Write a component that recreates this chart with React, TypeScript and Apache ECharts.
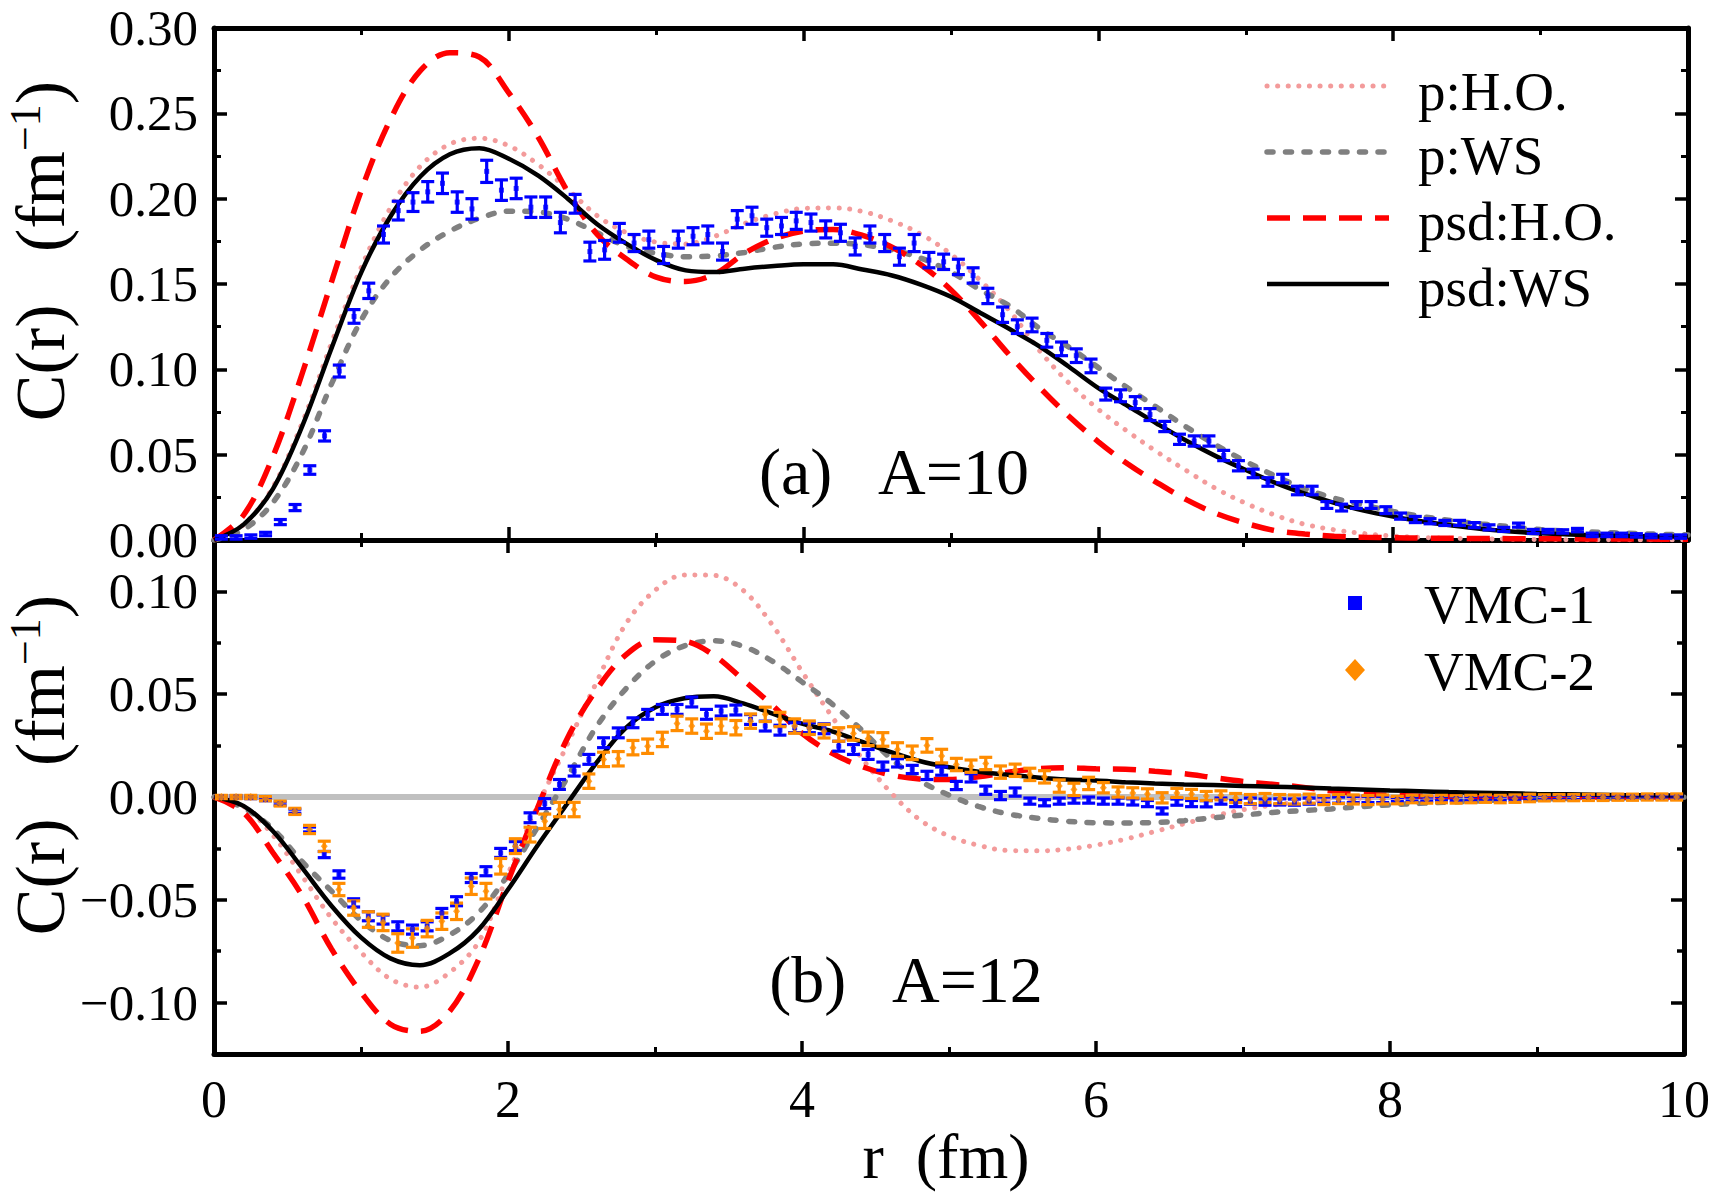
import React, { useEffect, useRef } from "react";
import * as echarts from "echarts";

const FONT = "Liberation Serif";

// radial grid of the model curves (fm)
const rCurve = [0, 0.2, 0.4, 0.6, 0.8, 1, 1.2, 1.4, 1.6, 1.8, 2, 2.2, 2.4, 2.6, 2.8, 3, 3.2, 3.4, 3.6, 3.8, 4, 4.2, 4.4, 4.6, 4.8, 5, 5.2, 5.4, 5.6, 5.8, 6, 6.2, 6.4, 6.6, 6.8, 7, 7.2, 7.4, 7.6, 7.8, 8, 8.2, 8.4, 8.6, 8.8, 9, 9.2, 9.4, 9.6, 9.8, 10];

// (a) A=10 model curves
const pHO_A10 = [0, 0.009, 0.031, 0.069, 0.116, 0.16, 0.195, 0.219, 0.232, 0.2354, 0.231, 0.22, 0.2055, 0.19, 0.18, 0.1745, 0.1735, 0.178, 0.1855, 0.191, 0.1943, 0.1946, 0.1925, 0.187, 0.179, 0.1675, 0.152, 0.134, 0.111, 0.092, 0.0765, 0.0635, 0.0515, 0.0405, 0.03, 0.0215, 0.0145, 0.0092, 0.006, 0.0038, 0.0023, 0.0015, 0.001, 0.0007, 0.0005, 0.0003, 0.0002, 0.0002, 0.0001, 0.0001, 0.0001];
const pWS_A10 = [0, 0.006, 0.022, 0.051, 0.092, 0.129, 0.154, 0.17, 0.181, 0.1885, 0.1927, 0.1922, 0.188, 0.18, 0.172, 0.168, 0.166, 0.1665, 0.1685, 0.1715, 0.1735, 0.1739, 0.173, 0.17, 0.165, 0.157, 0.1465, 0.137, 0.124, 0.113, 0.101, 0.089, 0.0775, 0.066, 0.0555, 0.046, 0.0375, 0.03, 0.0245, 0.0205, 0.0167, 0.0137, 0.0113, 0.0094, 0.0077, 0.0061, 0.0052, 0.0045, 0.0039, 0.0034, 0.003];
const psdHO_A10 = [0, 0.0145, 0.049, 0.098, 0.152, 0.205, 0.247, 0.275, 0.2855, 0.283, 0.262, 0.236, 0.204, 0.179, 0.1645, 0.154, 0.1515, 0.156, 0.168, 0.1765, 0.181, 0.182, 0.1785, 0.1715, 0.161, 0.1465, 0.128, 0.108, 0.0895, 0.0725, 0.0575, 0.0445, 0.0335, 0.0235, 0.0155, 0.0098, 0.0055, 0.0035, 0.0022, 0.0016, 0.0013, 0.0011, 0.001, 0.0009, 0.0008, 0.0007, 0.0007, 0.0006, 0.0006, 0.0005, 0.0005];
const psdWS_A10 = [0, 0.009, 0.03, 0.067, 0.113, 0.157, 0.19, 0.213, 0.226, 0.2296, 0.2234, 0.2135, 0.2, 0.185, 0.1735, 0.164, 0.158, 0.157, 0.159, 0.1605, 0.1615, 0.1615, 0.1585, 0.155, 0.1495, 0.1425, 0.133, 0.1235, 0.1135, 0.1015, 0.089, 0.0785, 0.068, 0.058, 0.049, 0.041, 0.0335, 0.0272, 0.0218, 0.0172, 0.0137, 0.0108, 0.0085, 0.0065, 0.005, 0.0039, 0.0032, 0.0027, 0.0024, 0.0021, 0.002];

// (b) A=12 model curves
const pHO_A12 = [0, -0.0045, -0.0185, -0.0385, -0.059, -0.0755, -0.0885, -0.0925, -0.0855, -0.0705, -0.0375, -0.0045, 0.025, 0.0555, 0.084, 0.1005, 0.108, 0.1078, 0.1005, 0.0835, 0.061, 0.0395, 0.0195, 0.0025, -0.011, -0.019, -0.0235, -0.026, -0.0262, -0.0254, -0.0234, -0.0205, -0.0168, -0.013, -0.0093, -0.0062, -0.004, -0.0023, -0.0012, -0.0006, -0.0003, -0.0002, -0.0001, 0, 0, 0, 0, 0, 0, 0, 0];
const pWS_A12 = [0, -0.0052, -0.0155, -0.0315, -0.0458, -0.06, -0.0698, -0.0723, -0.0672, -0.0563, -0.0378, -0.0147, 0.009, 0.034, 0.0525, 0.066, 0.0735, 0.076, 0.0733, 0.066, 0.056, 0.0455, 0.033, 0.019, 0.008, 0.0009, -0.0046, -0.0082, -0.0103, -0.0118, -0.0125, -0.0126, -0.0124, -0.0115, -0.0101, -0.0088, -0.0075, -0.0066, -0.0058, -0.0047, -0.0038, -0.0031, -0.0025, -0.0019, -0.0014, -0.001, -0.0008, -0.0006, -0.0004, -0.0002, -0.0001];
const psdHO_A12 = [0, -0.0075, -0.027, -0.048, -0.074, -0.095, -0.1105, -0.114, -0.1045, -0.079, -0.041, -0.0055, 0.028, 0.052, 0.069, 0.0765, 0.0758, 0.069, 0.057, 0.0445, 0.031, 0.0215, 0.015, 0.0108, 0.0088, 0.0085, 0.0098, 0.012, 0.0137, 0.0142, 0.0137, 0.0135, 0.0125, 0.0113, 0.0094, 0.0076, 0.0062, 0.0048, 0.003, 0.0016, 0.0008, 0.0004, 0.0002, 0.0001, 0.0001, 0, 0, 0, 0, 0, 0];
const psdWS_A12 = [0, -0.0043, -0.0165, -0.0345, -0.053, -0.0683, -0.0785, -0.0818, -0.0762, -0.0645, -0.045, -0.0237, -0.0035, 0.0165, 0.0335, 0.0435, 0.048, 0.049, 0.0455, 0.0405, 0.0357, 0.032, 0.027, 0.022, 0.0175, 0.0145, 0.0123, 0.0108, 0.0095, 0.0085, 0.008, 0.0072, 0.0066, 0.0061, 0.0058, 0.0054, 0.005, 0.0046, 0.0041, 0.0037, 0.0032, 0.0028, 0.0024, 0.0021, 0.0018, 0.0015, 0.0013, 0.0011, 0.0009, 0.0008, 0.0007];

// bin centres of the VMC samples (fm)
const rVmc = [
  0.05, 0.15, 0.25, 0.35, 0.45, 0.55, 0.65, 0.75, 0.85, 0.95,
  1.05, 1.15, 1.25, 1.35, 1.45, 1.55, 1.65, 1.75, 1.85, 1.95,
  2.05, 2.15, 2.25, 2.35, 2.45, 2.55, 2.65, 2.75, 2.85, 2.95,
  3.05, 3.15, 3.25, 3.35, 3.45, 3.55, 3.65, 3.75, 3.85, 3.95,
  4.05, 4.15, 4.25, 4.35, 4.45, 4.55, 4.65, 4.75, 4.85, 4.95,
  5.05, 5.15, 5.25, 5.35, 5.45, 5.55, 5.65, 5.75, 5.85, 5.95,
  6.05, 6.15, 6.25, 6.35, 6.45, 6.55, 6.65, 6.75, 6.85, 6.95,
  7.05, 7.15, 7.25, 7.35, 7.45, 7.55, 7.65, 7.75, 7.85, 7.95,
  8.05, 8.15, 8.25, 8.35, 8.45, 8.55, 8.65, 8.75, 8.85, 8.95,
  9.05, 9.15, 9.25, 9.35, 9.45, 9.55, 9.65, 9.75, 9.85, 9.95,
];

// VMC-1, A=10: value and statistical error
const vmc1A10 = [
  0.0015, 0.0015, 0.002, 0.0035, 0.0105, 0.019, 0.041, 0.061, 0.099, 0.131,
  0.146, 0.179, 0.193, 0.198, 0.204, 0.209, 0.198, 0.194, 0.216, 0.205,
  0.206, 0.195, 0.195, 0.186, 0.197, 0.169, 0.17, 0.18, 0.174, 0.176,
  0.167, 0.176, 0.178, 0.179, 0.169, 0.188, 0.19, 0.183, 0.184, 0.187,
  0.186, 0.182, 0.18, 0.172, 0.179, 0.174, 0.166, 0.174, 0.164, 0.163,
  0.16, 0.155, 0.143, 0.132, 0.125, 0.126, 0.117, 0.112, 0.108, 0.102,
  0.0855, 0.0845, 0.0805, 0.0735, 0.0665, 0.059, 0.058, 0.058, 0.0495, 0.0435,
  0.039, 0.034, 0.036, 0.029, 0.029, 0.0205, 0.019, 0.0205, 0.0205, 0.0175,
  0.014, 0.012, 0.011, 0.01, 0.01, 0.0087, 0.0074, 0.0062, 0.0087, 0.005,
  0.0052, 0.005, 0.0058, 0.003, 0.003, 0.003, 0.0027, 0.0023, 0.002, 0.002,
];
const err1A10 = [
  0.001, 0.001, 0.001, 0.001, 0.0015, 0.0018, 0.0025, 0.003, 0.0035, 0.004,
  0.0045, 0.005, 0.0055, 0.0055, 0.006, 0.006, 0.006, 0.006, 0.0065, 0.006,
  0.006, 0.006, 0.006, 0.006, 0.0055, 0.0055, 0.0055, 0.0055, 0.005, 0.005,
  0.005, 0.005, 0.005, 0.005, 0.005, 0.005, 0.005, 0.005, 0.005, 0.005,
  0.005, 0.005, 0.005, 0.005, 0.005, 0.005, 0.005, 0.005, 0.0045, 0.0045,
  0.0045, 0.0045, 0.0045, 0.0045, 0.004, 0.004, 0.004, 0.004, 0.004, 0.004,
  0.0035, 0.0035, 0.0035, 0.0035, 0.003, 0.003, 0.003, 0.003, 0.003, 0.003,
  0.0025, 0.0025, 0.0025, 0.0025, 0.0025, 0.002, 0.002, 0.002, 0.002, 0.002,
  0.0018, 0.0018, 0.0015, 0.0015, 0.0015, 0.0015, 0.0015, 0.0012, 0.0012, 0.0012,
  0.001, 0.001, 0.001, 0.001, 0.001, 0.001, 0.001, 0.001, 0.001, 0.001,
];

// VMC-1, A=12
const vmc1A12 = [
  0, 0, -0.0002, -0.0012, -0.0032, -0.0069, -0.0158, -0.028, -0.0377, -0.0515,
  -0.058, -0.0596, -0.0629, -0.0645, -0.0629, -0.0564, -0.0507, -0.0394, -0.0361, -0.0272,
  -0.0239, -0.0101, -0.0032, 0.0061, 0.0126, 0.0183, 0.0264, 0.0312, 0.0361, 0.0402,
  0.0426, 0.0426, 0.0462, 0.0402, 0.0418, 0.0423, 0.0377, 0.0345, 0.0325, 0.0337,
  0.0337, 0.0332, 0.0247, 0.0231, 0.0207, 0.015, 0.0166, 0.0134, 0.0105, 0.0126,
  0.0056, 0.0093, 0.0033, 0.0007, 0.0024, -0.002, -0.0028, -0.002, -0.0015, -0.0015,
  -0.002, -0.002, -0.0024, -0.0032, -0.0068, -0.0025, -0.0032, -0.0033, -0.002, -0.0032,
  -0.002, -0.0025, -0.0024, -0.0025, -0.002, -0.0015, -0.0015, -0.0012, -0.0012, -0.0012,
  -0.0012, -0.001, -0.001, -0.0008, -0.0008, -0.0008, -0.0006, -0.0006, -0.0005, -0.0004,
  -0.0003, -0.0002, -0.0002, -0.0001, 0, -0.0001, 0, 0, 0, 0,
];
const err1A12 = [
  0.0006, 0.0006, 0.0006, 0.0006, 0.0008, 0.001, 0.0012, 0.0015, 0.0018, 0.002,
  0.0022, 0.0022, 0.0022, 0.0022, 0.0022, 0.0022, 0.0022, 0.0022, 0.0022, 0.0022,
  0.0022, 0.0024, 0.0024, 0.0024, 0.0024, 0.0024, 0.0024, 0.0024, 0.0024, 0.0024,
  0.0024, 0.0024, 0.0024, 0.0024, 0.0024, 0.0024, 0.0024, 0.0024, 0.0024, 0.0024,
  0.0024, 0.0024, 0.0024, 0.0024, 0.0024, 0.002, 0.002, 0.002, 0.002, 0.002,
  0.002, 0.002, 0.002, 0.002, 0.002, 0.0015, 0.0015, 0.0015, 0.0015, 0.0015,
  0.0015, 0.0015, 0.0015, 0.0015, 0.0015, 0.0015, 0.0015, 0.0015, 0.0015, 0.0015,
  0.0015, 0.0015, 0.0015, 0.0015, 0.0015, 0.0015, 0.0015, 0.0015, 0.0015, 0.0015,
  0.001, 0.001, 0.001, 0.001, 0.001, 0.001, 0.001, 0.001, 0.001, 0.001,
  0.001, 0.001, 0.001, 0.001, 0.001, 0.001, 0.001, 0.001, 0.001, 0.001,
];

// VMC-2, A=12
const vmc2A12 = [
  0, 0, 0, -0.0008, -0.0032, -0.007, -0.0158, -0.024, -0.045, -0.054,
  -0.0596, -0.061, -0.071, -0.0686, -0.064, -0.0604, -0.0556, -0.0434, -0.0458, -0.0337,
  -0.0239, -0.0183, -0.0118, -0.0061, -0.0061, 0.0077, 0.0183, 0.0186, 0.024, 0.0247,
  0.028, 0.0358, 0.0345, 0.032, 0.0345, 0.0337, 0.0369, 0.0402, 0.0377, 0.0345,
  0.0337, 0.032, 0.0304, 0.0309, 0.0283, 0.028, 0.0231, 0.0215, 0.0251, 0.0199,
  0.0158, 0.015, 0.0163, 0.0121, 0.013, 0.011, 0.0098, 0.0053, 0.0037, 0.0066,
  0.0045, 0.0024, 0.002, 0.0015, -0.0004, 0.002, 0.0015, 0.0005, 0.0008, -0.0005,
  -0.001, -0.0005, -0.001, -0.0012, -0.0008, -0.0015, -0.001, -0.0012, -0.0015, -0.0012,
  -0.0015, -0.001, -0.0012, -0.001, -0.0012, -0.001, -0.0008, -0.001, -0.0008, -0.0005,
  -0.0004, -0.0003, -0.0003, -0.0002, -0.0002, -0.0001, -0.0001, 0, 0, 0,
];
const err2A12 = [
  0.0008, 0.0008, 0.0008, 0.001, 0.0012, 0.0015, 0.002, 0.0025, 0.003, 0.0035,
  0.0038, 0.004, 0.0045, 0.0045, 0.004, 0.004, 0.004, 0.004, 0.0038, 0.0038,
  0.0036, 0.0036, 0.0035, 0.0035, 0.0035, 0.0035, 0.0035, 0.0035, 0.0035, 0.0035,
  0.0035, 0.0035, 0.0035, 0.0035, 0.0035, 0.0035, 0.0035, 0.0035, 0.0035, 0.0035,
  0.0033, 0.0033, 0.0033, 0.0033, 0.0033, 0.0033, 0.0033, 0.0033, 0.0033, 0.0033,
  0.003, 0.003, 0.003, 0.003, 0.003, 0.003, 0.003, 0.003, 0.003, 0.003,
  0.0025, 0.0025, 0.0025, 0.0025, 0.0025, 0.0022, 0.0022, 0.0022, 0.0022, 0.0022,
  0.0022, 0.0022, 0.0022, 0.0022, 0.0022, 0.0022, 0.0022, 0.0022, 0.0022, 0.0022,
  0.0018, 0.0018, 0.0018, 0.0018, 0.0018, 0.0018, 0.0018, 0.0018, 0.0018, 0.0018,
  0.0015, 0.0015, 0.0015, 0.0015, 0.0015, 0.0015, 0.0015, 0.0015, 0.0015, 0.0015,
];

// reference line at C(r)=0 in panel (b)
const zeroLineR = [0, 9];

// tick values
const xTickStep = 2;
const yStepA10 = 0.05;
const yMajorA12 = [-0.1, -0.05, 0, 0.05, 0.1];
const yMinorA12 = [-0.075, -0.025, 0.025, 0.075];

const COLORS = {
  pHO: "#f39b9b",
  pWS: "#808080",
  psdHO: "#ff0000",
  psdWS: "#000000",
  vmc1: "#0000ff",
  vmc2: "#ff8c00",
  zero: "#c0c0c0",
};

const STYLES: Record<string, any> = {
  "p:H.O.": { color: COLORS.pHO, width: 5, type: [0.1, 10.5], cap: "round" },
  "p:WS": { color: COLORS.pWS, width: 5.5, type: [6, 12.5], cap: "round" },
  "psd:H.O.": { color: COLORS.psdHO, width: 5.5, type: [23, 13], cap: "butt" },
  "psd:WS": { color: COLORS.psdWS, width: 4.5, type: "solid", cap: "butt" },
};

const zip = (xs: number[], ys: number[]) => xs.map((x, i) => [x, ys[i]]);
const zip3 = (xs: number[], ys: number[], es: number[]) => xs.map((x, i) => [x, ys[i], es[i]]);

const fmtTick = (v: number) => (v < -1e-9 ? "\u2212" + Math.abs(v).toFixed(2) : Math.abs(v).toFixed(2));

const AXIS_LINE = { show: true, onZero: false, lineStyle: { color: "#000", width: 5 } };
const TICK = (len: number, extra: any = {}) => ({
  show: true,
  inside: true,
  length: len,
  lineStyle: { color: "#000", width: 3.5 },
  ...extra,
});
const Y_LABEL = { show: true, fontFamily: FONT, fontSize: 51, color: "#000", margin: 16, padding: [8, 0, 0, 0], formatter: fmtTick };

function xAxis(gridIndex: number, position: "top" | "bottom", labels: boolean) {
  return {
    type: "value",
    gridIndex,
    position,
    min: 0,
    max: 10,
    interval: xTickStep,
    axisLine: AXIS_LINE,
    axisTick: TICK(13),
    minorTick: { show: true, splitNumber: 2, length: 7, lineStyle: { color: "#000", width: 3 } },
    splitLine: { show: false },
    minorSplitLine: { show: false },
    axisLabel: labels
      ? { show: true, fontFamily: FONT, fontSize: 52, color: "#000", margin: 19 }
      : { show: false },
  };
}

function yAxisA10(position: "left" | "right", labels: boolean) {
  return {
    type: "value",
    gridIndex: 0,
    position,
    min: 0,
    max: 0.3,
    interval: yStepA10,
    axisLine: AXIS_LINE,
    axisTick: TICK(13),
    minorTick: { show: true, splitNumber: 2, length: 7, lineStyle: { color: "#000", width: 3 } },
    splitLine: { show: false },
    minorSplitLine: { show: false },
    axisLabel: labels ? Y_LABEL : { show: false },
  };
}

function yAxisA12(position: "left" | "right", kind: "major" | "minor", labels: boolean) {
  const values = kind === "major" ? yMajorA12 : yMinorA12;
  return {
    type: "value",
    gridIndex: 1,
    position,
    min: -0.125,
    max: 0.125,
    axisLine: kind === "major" ? AXIS_LINE : { show: false, onZero: false },
    axisTick: TICK(kind === "major" ? 13 : 7, { customValues: values }),
    splitLine: { show: false },
    axisLabel: labels ? { ...Y_LABEL, customValues: values } : { show: false },
  };
}

function curve(name: string, ys: number[], xi: number, yi: number) {
  return {
    name,
    type: "line",
    xAxisIndex: xi,
    yAxisIndex: yi,
    data: zip(rCurve, ys),
    symbol: "none",
    smooth: 0.35,
    silent: true,
    lineStyle: STYLES[name],
    z: name === "psd:WS" ? 4 : 3,
  };
}

const errorBarRenderer = (color: string) => (_params: any, api: any) => {
  const x = api.value(0);
  const y = api.value(1);
  const e = api.value(2);
  const hi = api.coord([x, y + e]);
  const lo = api.coord([x, y - e]);
  const cap = 6.5;
  const style = { stroke: color, lineWidth: 3.2 };
  return {
    type: "group",
    children: [
      { type: "line", shape: { x1: hi[0], y1: hi[1], x2: lo[0], y2: lo[1] }, style },
      { type: "line", shape: { x1: hi[0] - cap, y1: hi[1], x2: hi[0] + cap, y2: hi[1] }, style },
      { type: "line", shape: { x1: lo[0] - cap, y1: lo[1], x2: lo[0] + cap, y2: lo[1] }, style },
    ],
  };
};

function vmc(name: string, ys: number[], es: number[], xi: number, yi: number, color: string, symbol: string, size: number[]) {
  return [
    {
      name: name + " error",
      type: "custom",
      xAxisIndex: xi,
      yAxisIndex: yi,
      data: zip3(rVmc, ys, es),
      encode: { x: 0, y: 1 },
      renderItem: errorBarRenderer(color),
      silent: true,
      z: 5,
    },
    {
      name,
      type: "scatter",
      xAxisIndex: xi,
      yAxisIndex: yi,
      data: zip(rVmc, ys),
      symbol,
      symbolSize: size,
      itemStyle: { color },
      silent: true,
      z: 6,
    },
  ];
}

function legendLine(y: number, name: string) {
  const s = STYLES[name];
  return {
    type: "line",
    shape: { x1: 1267, y1: y, x2: 1389, y2: y },
    style: {
      stroke: s.color,
      lineWidth: s.width,
      lineDash: Array.isArray(s.type) ? s.type : null,
      lineCap: s.cap,
    },
  };
}

function label(text: string, x: number, y: number, fontSize: number, align = "left") {
  return {
    type: "text",
    x,
    y,
    style: { text, fontFamily: FONT, fontSize, fill: "#000", align, verticalAlign: "middle" },
  };
}

function yTitle(y: number) {
  return {
    type: "text",
    x: 40,
    y,
    rotation: Math.PI / 2,
    style: {
      text: "{a|C(r)   (fm}{s|\u22121}{a|)}",
      align: "center",
      verticalAlign: "middle",
      fill: "#000",
      fontFamily: FONT,
      fontSize: 70,
      rich: {
        a: { fontFamily: FONT, fontSize: 70, fill: "#000" },
        s: { fontFamily: FONT, fontSize: 44, fill: "#000", padding: [0, 0, 30, 0] },
      },
    },
  };
}

const option: any = {
  animation: false,
  backgroundColor: "#fff",
  grid: [
    { left: 214, right: 25, top: 28, height: 512 },
    { left: 214, right: 25, top: 540, height: 514 },
  ],
  xAxis: [
    xAxis(0, "bottom", false),
    xAxis(0, "top", false),
    xAxis(1, "bottom", true),
    xAxis(1, "top", false),
  ],
  yAxis: [
    yAxisA10("left", true),
    yAxisA10("right", false),
    yAxisA12("left", "major", true),
    yAxisA12("left", "minor", false),
    yAxisA12("right", "major", false),
    yAxisA12("right", "minor", false),
  ],
  series: [
    curve("p:H.O.", pHO_A10, 0, 0),
    curve("p:WS", pWS_A10, 0, 0),
    curve("psd:H.O.", psdHO_A10, 0, 0),
    curve("psd:WS", psdWS_A10, 0, 0),
    ...vmc("VMC-1", vmc1A10, err1A10, 0, 0, COLORS.vmc1, "rect", [5, 5]),
    {
      name: "zero",
      type: "line",
      xAxisIndex: 2,
      yAxisIndex: 2,
      data: zeroLineR.map((r) => [r, 0]),
      symbol: "none",
      silent: true,
      lineStyle: { color: COLORS.zero, width: 6 },
      z: 2,
    },
    curve("p:H.O.", pHO_A12, 2, 2),
    curve("p:WS", pWS_A12, 2, 2),
    curve("psd:H.O.", psdHO_A12, 2, 2),
    curve("psd:WS", psdWS_A12, 2, 2),
    ...vmc("VMC-1", vmc1A12, err1A12, 2, 2, COLORS.vmc1, "rect", [5, 5]),
    ...vmc("VMC-2", vmc2A12, err2A12, 2, 2, COLORS.vmc2, "diamond", [7, 8]),
  ],
  graphic: [
    // legend of panel (a)
    legendLine(86, "p:H.O."),
    legendLine(152, "p:WS"),
    legendLine(218, "psd:H.O."),
    legendLine(284, "psd:WS"),
    label("p:H.O.", 1418, 91, 55),
    label("p:WS", 1418, 155, 55),
    label("psd:H.O.", 1418, 221, 55),
    label("psd:WS", 1418, 287, 55),
    // legend of panel (b)
    { type: "rect", shape: { x: 1348, y: 596, width: 14, height: 14 }, style: { fill: COLORS.vmc1 } },
    {
      type: "polygon",
      shape: { points: [[1355, 659], [1365, 670], [1355, 681], [1345, 670]] },
      style: { fill: COLORS.vmc2 },
    },
    label("VMC-1", 1424, 604, 55),
    label("VMC-2", 1424, 671, 55),
    // panel tags
    label("(a)   A=10", 894, 471, 66, "center"),
    label("(b)   A=12", 906, 979, 66, "center"),
    // axis titles
    label("r  (fm)", 946, 1156, 64, "center"),
    yTitle(251),
    yTitle(765),
  ],
};

export default function App() {
  const ref = useRef<HTMLDivElement>(null);
  useEffect(() => {
    if (!ref.current) return;
    const chart = echarts.init(ref.current, null, { renderer: "svg" });
    chart.setOption(option);
    return () => chart.dispose();
  }, []);
  return (
    <div
      ref={ref}
      style={{ position: "fixed", left: 0, top: 0, width: 1713, height: 1198, background: "#fff" }}
    />
  );
}
